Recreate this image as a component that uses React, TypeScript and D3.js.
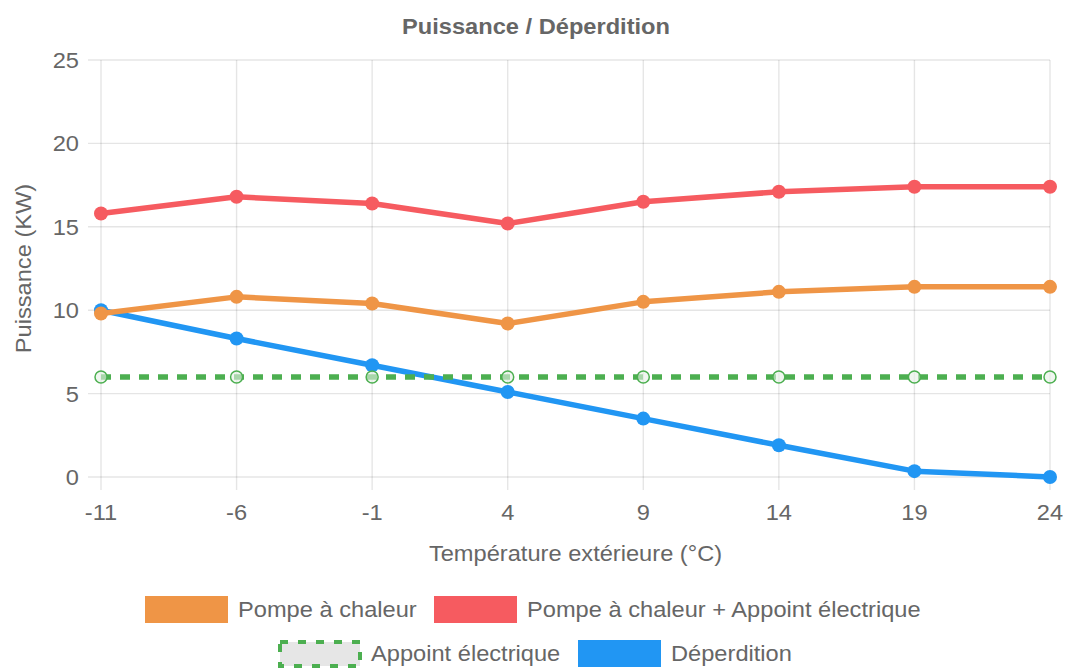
import React from "react";
import * as d3 from "d3";

const temperatures = [-11, -6, -1, 4, 9, 14, 19, 24];
const pompeChaleur = [9.8, 10.8, 10.4, 9.2, 10.5, 11.1, 11.4, 11.4];
const pompeAppoint = [15.8, 16.8, 16.4, 15.2, 16.5, 17.1, 17.4, 17.4];
const appointElectrique = [6, 6, 6, 6, 6, 6, 6, 6];
const deperdition = [10.0, 8.3, 6.7, 5.1, 3.5, 1.9, 0.35, 0];
const yTicks = [0, 5, 10, 15, 20, 25];

const W = 1070;
const H = 671;
const M = { left: 101, right: 1050, top: 60, bottom: 477 };
const FONT = "'Liberation Sans', Arial, Helvetica, sans-serif";
const TXT = "#666";
const SX = 1.075;

type Series = { name: string; values: number[]; color: string; dashed?: boolean };

const series: Series[] = [
  { name: "Pompe à chaleur", values: pompeChaleur, color: "#EF9546" },
  { name: "Pompe à chaleur + Appoint électrique", values: pompeAppoint, color: "#F65B60" },
  { name: "Appoint électrique", values: appointElectrique, color: "#4CAF50", dashed: true },
  { name: "Déperdition", values: deperdition, color: "#2196F3" },
];

const legendPos = [
  { x: 145, y: 596 },
  { x: 434, y: 596 },
  { x: 278, y: 640 },
  { x: 578, y: 640 },
];

function T(props: {
  x: number;
  y: number;
  anchor?: "start" | "middle" | "end";
  rotate?: number;
  bold?: boolean;
  size?: number;
  dy?: string;
  children: React.ReactNode;
}) {
  const { x, y, anchor = "start", rotate = 0, bold, size = 22, dy } = props;
  return (
    <g transform={`translate(${x},${y}) rotate(${rotate}) scale(${SX},1)`}>
      <text
        x={0}
        y={0}
        dy={dy}
        textAnchor={anchor}
        fontFamily={FONT}
        fontSize={size}
        fontWeight={bold ? "bold" : "normal"}
        fill={TXT}
      >
        {props.children}
      </text>
    </g>
  );
}

export default function App() {
  const x = d3.scalePoint<number>().domain(temperatures).range([M.left, M.right]);
  const y = d3.scaleLinear().domain([0, 25]).range([M.bottom, M.top]);
  const line = d3
    .line<number>()
    .x((_, i) => x(temperatures[i]) as number)
    .y((d) => y(d));

  const drawOrder = [...series].reverse();

  return (
    <svg width={W} height={H} style={{ display: "block", position: "absolute", left: 0, top: 0, background: "#fff" }}>
      <rect x={0} y={0} width={W} height={H} fill="#fff" />
      <T x={536} y={34} anchor="middle" bold size={22}>
        Puissance / Déperdition
      </T>
      {yTicks.map((t) => (
        <g key={"y" + t}>
          <line x1={M.left - 13} x2={M.right} y1={y(t)} y2={y(t)} stroke="rgba(0,0,0,0.1)" strokeWidth={1.4} />
          <T x={79} y={y(t)} dy="0.36em" anchor="end">
            {t}
          </T>
        </g>
      ))}
      {temperatures.map((t) => (
        <g key={"x" + t}>
          <line x1={x(t)} x2={x(t)} y1={M.top} y2={M.bottom + 13} stroke="rgba(0,0,0,0.1)" strokeWidth={1.4} />
          <T x={x(t) as number} y={520} anchor="middle">
            {t}
          </T>
        </g>
      ))}
      <T x={(M.left + M.right) / 2} y={561} anchor="middle">
        Température extérieure (°C)
      </T>
      <T x={31} y={(M.top + M.bottom) / 2} rotate={-90} anchor="middle">
        Puissance (KW)
      </T>
      {drawOrder.map((s) => (
        <g key={s.name}>
          <path
            d={line(s.values) || ""}
            fill="none"
            stroke={s.color}
            strokeWidth={5.5}
            strokeDasharray={s.dashed ? "10 9" : undefined}
            strokeLinejoin="round"
          />
          {s.values.map((v, i) =>
            s.dashed ? (
              <circle
                key={i}
                cx={x(temperatures[i]) as number}
                cy={y(v)}
                r={6}
                fill="rgba(230,240,230,0.6)"
                stroke={s.color}
                strokeWidth={1.5}
              />
            ) : (
              <circle key={i} cx={x(temperatures[i]) as number} cy={y(v)} r={7} fill={s.color} />
            )
          )}
        </g>
      ))}
      {series.map((s, i) => {
        const p = legendPos[i];
        return (
          <g key={"lg" + i}>
            {s.dashed ? (
              <rect
                x={p.x + 2}
                y={p.y + 2}
                width={80}
                height={24}
                fill="#e6e6e6"
                stroke={s.color}
                strokeWidth={4}
                strokeDasharray="8 10"
              />
            ) : (
              <rect x={p.x} y={p.y} width={83} height={27} fill={s.color} />
            )}
            <T x={p.x + 93} y={p.y + 13.5} dy="0.36em">
              {s.name}
            </T>
          </g>
        );
      })}
    </svg>
  );
}
